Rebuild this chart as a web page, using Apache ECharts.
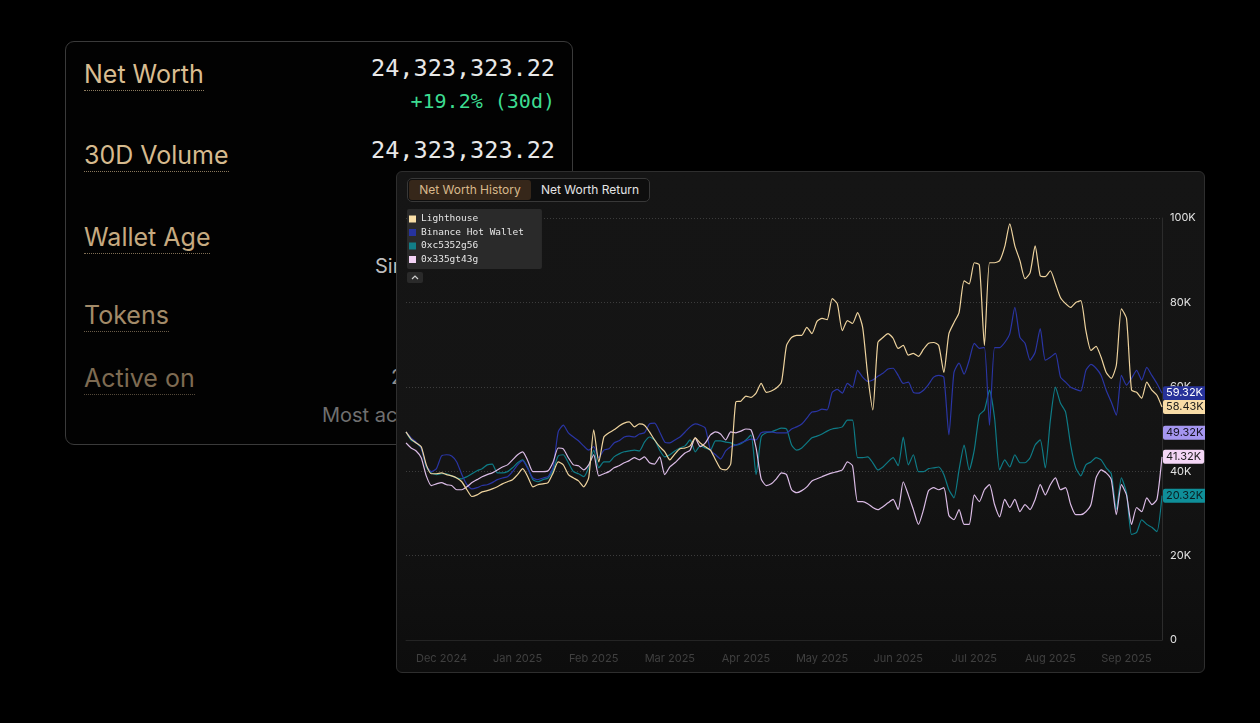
<!DOCTYPE html>
<html>
<head>
<meta charset="utf-8">
<script src="https://cdn.jsdelivr.net/npm/echarts@6/dist/echarts.min.js"></script>
<style>
html,body{margin:0;padding:0;background:#000;width:1260px;height:723px;overflow:hidden;font-family:Inter,'Noto Sans',sans-serif;}
#card{position:absolute;left:65px;top:41px;width:506px;height:402px;border:1.5px solid #3a3a3a;border-radius:9px;background:#020202;}
.lbl{position:absolute;left:84px;font-size:25px;white-space:nowrap;}
.lbl span{display:inline-block;line-height:25px;padding-bottom:3px;border-bottom:1.5px dotted;}
.val{position:absolute;left:250px;width:305px;text-align:right;font-family:'DejaVu Sans Mono',monospace;white-space:nowrap;color:#e8e8e8;}
.sub{position:absolute;font-size:20px;line-height:20px;white-space:nowrap;}
#panel{position:absolute;left:396px;top:171px;width:807px;height:500px;border:1px solid #2e2e2e;border-radius:6px;
  background:linear-gradient(to bottom,#151515 0%,#141414 60%,#0d0d0d 100%);}
#chart{position:absolute;left:396px;top:171px;width:809px;height:502px;}
#tabs{position:absolute;left:407px;top:178px;width:241px;height:22px;border:1px solid #383838;border-radius:5px;background:#0e0e0e;font-size:12px;}
#tabs .t1{position:absolute;left:1px;top:1px;width:122px;height:20px;line-height:20px;text-align:center;background:#36271a;border-radius:3px;color:#d8b98c;}
#tabs .t2{position:absolute;left:124px;top:1px;width:116px;height:20px;line-height:20px;text-align:center;color:#e4e4e4;}
</style>
</head>
<body>
<div id="card">
</div>
<div class="lbl" style="top:59px;color:#d9bd91"><span style="border-color:#8d7c60">Net Worth</span></div>
<div class="val" style="top:57px;font-size:23.5px;line-height:23.5px">24,323,323.22</div>
<div class="val" style="top:91px;font-size:20px;line-height:20px;color:#3ddc91">+19.2% (30d)</div>
<div class="lbl" style="top:140px;color:#d6ba8e"><span style="border-color:#8a785c">30D Volume</span></div>
<div class="val" style="top:139px;font-size:23.5px;line-height:23.5px">24,323,323.22</div>
<div class="lbl" style="top:222px;color:#c6aa80"><span style="border-color:#7f6e55">Wallet Age</span></div>
<div class="sub" style="left:375px;top:256px;color:#bdbdbd">Since Mar 2021</div>
<div class="lbl" style="top:300px;color:#a38b69"><span style="border-color:#6a5c48">Tokens</span></div>
<div class="lbl" style="top:363px;color:#7e6b52"><span style="border-color:#54493a">Active on</span></div>
<div class="sub" style="left:391px;top:367px;color:#8f8f8f">24 chains</div>
<div class="sub" style="left:322px;top:405px;color:#6f6f6f">Most active: Ethereum</div>

<div id="panel"></div>
<div id="chart"></div>
<div id="tabs"><div class="t1">Net Worth History</div><div class="t2">Net Worth Return</div></div>

<script>
// ---- data ----
const months = ['Dec 2024','Jan 2025','Feb 2025','Mar 2025','Apr 2025','May 2025','Jun 2025','Jul 2025','Aug 2025','Sep 2025'];
const pointsPerMonth = 15;
const yTickLabels = ['0','20K','40K','60K','80K','100K'];
const seriesNames = ['Lighthouse','Binance Hot Wallet','0xc5352g56','0x335gt43g'];

// values in thousands (K)
const lighthouse = [49.3,47.6,46.7,45.8,41.5,39.4,39.4,39.6,39.2,38.9, 38.4,37.5,35.6,34.0,34.4,35.1,35.4,35.8,36.3,37.0,
  37.5,38.0,39.2,40.6,38.7,36.3,36.8,37.0,37.3,39.6, 42.2,41.5,39.2,38.4,37.7,36.3,38.4,49.8,42.2,48.1,
  49.1,49.8,50.7,51.4,51.7,50.5,51.2,50.9,49.3,47.4, 45.8,44.6,42.7,44.1,45.3,45.5,46.0,47.9,46.7,45.8,
  45.0,42.7,40.6,40.3,41.7,56.4,56.6,57.8,57.5,58.5, 60.8,58.7,59.0,59.7,61.1,69.8,71.7,72.2,72.2,74.1,
  72.6,75.5,76.2,75.9,80.9,79.7,73.3,75.7,75.0,77.6, 74.1,62.7,54.5,70.5,71.7,72.6,71.5,69.1,69.8,67.5,
  67.9,67.2,68.9,70.3,70.5,69.8,63.4,72.6,75.2,77.6, 85.1,84.4,89.4,88.9,69.8,89.4,89.4,89.9,93.2,98.6,
  93.4,89.9,85.6,87.0,93.4,86.3,86.1,87.5,84.4,81.1, 79.7,78.8,80.0,80.4,73.3,68.6,69.6,67.0,63.4,62.0,
  65.1,78.5,76.2,59.2,58.7,57.3,61.1,59.2,58.0,55.2];
const binanceHotWallet = [49.3,47.9,46.9,45.5,41.3,39.9,40.6,43.6,43.9,43.6, 42.2,39.2,36.8,35.8,36.1,36.6,36.8,37.3,38.0,38.4,
  38.7,39.9,41.5,42.5,40.6,38.4,38.0,38.4,38.7,41.0, 49.3,50.9,49.1,48.1,47.2,46.0,45.0,45.8,43.2,45.0,
  45.3,46.7,47.2,48.1,48.3,48.1,48.8,49.1,51.2,51.4, 49.3,46.9,46.7,47.4,48.1,49.3,50.5,51.2,50.9,50.2,
  45.0,43.9,42.9,44.8,45.8,46.2,46.7,47.2,47.6,47.4, 49.1,49.3,49.3,49.1,49.1,49.1,50.0,50.5,51.2,52.6,
  54.0,54.2,54.7,54.5,58.7,59.4,58.5,60.8,59.9,63.9, 62.3,61.3,61.6,62.5,63.2,64.2,64.4,62.7,60.8,61.1,
  58.7,58.5,59.2,60.6,62.3,62.7,62.3,48.6,63.4,65.6, 63.0,66.3,70.3,69.1,69.3,50.9,69.3,69.3,70.5,72.6,
  78.8,71.7,70.3,66.3,68.2,73.8,66.3,67.0,67.9,62.3, 61.1,59.9,59.4,59.0,63.9,65.3,64.4,62.7,59.2,56.4,
  53.3,62.7,60.4,62.0,63.9,61.6,64.6,62.7,60.8,58.5];
const wallet0xc5 = [49.3,47.4,46.7,45.5,41.0,39.6,39.2,39.4,39.4,38.9, 38.4,38.2,38.7,39.4,40.1,40.6,41.5,41.7,39.6,39.6,
  39.9,40.8,42.0,42.7,40.8,38.0,37.5,38.0,38.4,40.3, 43.6,43.9,42.0,39.9,39.4,38.7,40.8,45.0,40.8,42.2,
  42.2,43.4,44.1,44.6,44.8,45.0,44.8,46.9,48.1,47.4, 45.0,43.4,43.9,44.8,45.5,46.0,47.4,44.6,46.0,45.5,
  45.0,47.2,47.2,46.9,46.7,46.2,46.5,47.4,48.6,39.2, 48.1,49.1,49.3,49.8,50.2,50.0,46.2,45.0,45.5,46.7,
  47.9,48.3,48.8,49.5,50.0,50.2,50.5,52.1,52.1,43.2, 43.2,43.4,42.0,40.3,41.0,42.2,43.2,41.3,48.1,41.5,
  43.9,39.9,39.9,40.6,40.8,41.0,39.2,35.6,33.7,40.3, 46.2,40.3,45.0,53.3,54.5,59.2,52.6,40.3,42.7,41.0,
  43.9,42.0,42.0,43.2,46.2,47.4,40.8,52.1,59.9,56.1, 54.0,46.2,40.8,38.9,41.5,42.2,43.2,42.7,40.8,39.4,
  30.9,38.4,34.9,25.0,25.5,28.5,27.4,26.7,25.7,34.2];
const wallet0x33 = [46.7,45.5,44.8,43.2,38.9,36.6,37.0,37.3,36.8,36.6, 35.6,35.6,36.3,37.3,38.0,38.7,39.2,39.6,40.3,41.0,
  41.5,42.7,43.9,44.6,42.5,39.9,39.9,39.9,40.1,42.2, 45.5,45.3,43.2,41.5,41.3,40.3,41.5,43.9,38.9,39.4,
  39.9,40.8,41.3,42.0,42.5,43.2,42.7,43.4,42.0,41.7, 43.4,39.2,41.0,42.0,43.2,44.3,45.0,47.9,45.8,46.7,
  48.6,49.3,48.8,47.4,49.3,49.1,49.5,50.0,49.8,45.5, 38.2,36.6,37.0,38.2,39.6,39.2,35.6,34.9,35.4,36.3,
  37.7,38.2,38.7,39.2,39.6,39.9,40.3,42.2,41.3,32.8, 32.8,32.3,31.4,30.9,31.6,32.5,33.3,30.9,37.5,34.4,
  30.9,27.4,30.9,35.4,36.1,35.6,36.1,29.5,28.5,30.9, 27.4,27.4,34.4,32.8,35.6,36.8,32.1,29.2,33.3,31.4,
  33.3,30.4,32.1,30.9,33.3,36.8,34.4,36.8,38.4,35.6, 36.1,32.1,29.7,29.7,30.4,32.1,38.4,40.3,39.6,38.0,
  29.7,36.8,34.4,27.4,31.4,30.4,33.7,32.1,33.3,43.4];
const endTags = ['58.43K','59.32K','20.32K','41.32K'];
const extraTag = '49.32K';
const extraTagValue = 49.1;

// ---- build ----
const categories = [];
months.forEach(m => { for (let k = 1; k <= pointsPerMonth; k++) categories.push(m + '|' + k); });
const lineColors = ['#eed39e','#2a35a4','#0e7b86','#dbbce6'];
const legendColors = ['#f9dfa8','#2633a0','#127e88','#f3d3f6'];
const tagStyles = [
  {bg:'#f8dca6', fg:'#1c1c1c'}, {bg:'#27329a', fg:'#ffffff'},
  {bg:'#0f8f99', fg:'#0b1f22'}, {bg:'#f4d6f6', fg:'#1c1c1c'}
];
const dataSets = [lighthouse, binanceHotWallet, wallet0xc5, wallet0x33];
const zs = [6, 4, 3, 5];

const series = seriesNames.map((name, i) => ({
  type: 'line', name, data: dataSets[i], z: zs[i],
  showSymbol: false, symbol: 'none', smooth: 0.2, silent: true,
  lineStyle: {color: lineColors[i], width: 1.2},
  itemStyle: {color: legendColors[i]},
  endLabel: {show: true, formatter: endTags[i], backgroundColor: tagStyles[i].bg, color: tagStyles[i].fg,
    padding: [2, 3, 1, 3], borderRadius: 2, fontSize: 11, fontFamily: 'Inter', distance: 1},
  emphasis: {disabled: true}
}));
const extraData = categories.map((c, i) => i === categories.length - 1 ? extraTagValue : null);
series.push({
  type: 'line', name: 'extra', data: extraData, z: 7, showSymbol: false, symbol: 'none', silent: true,
  lineStyle: {opacity: 0, width: 0}, itemStyle: {color: '#a596f0'},
  endLabel: {show: true, formatter: extraTag, backgroundColor: '#a596f0', color: '#15121f',
    padding: [2, 3, 1, 3], borderRadius: 2, fontSize: 11, fontFamily: 'Inter', distance: 1},
  emphasis: {disabled: true}
});

const chart = echarts.init(document.getElementById('chart'), null, {renderer: 'canvas'});
chart.setOption({
  animation: false,
  backgroundColor: 'transparent',
  grid: {left: 10, right: 43, top: 47, bottom: 33},
  legend: {
    data: seriesNames, orient: 'vertical', left: 11, top: 38, icon: 'rect',
    itemWidth: 7, itemHeight: 7, itemGap: 2.5, padding: [4.5, 18, 4, 2],
    backgroundColor: '#2a2a2a', borderRadius: 2, selectedMode: false,
    textStyle: {color: '#e6e6e6', fontFamily: 'DejaVu Sans Mono', fontSize: 9.5, lineHeight: 11}
  },
  xAxis: {
    type: 'category', data: categories, boundaryGap: false,
    axisLine: {show: true, lineStyle: {color: '#242424'}},
    axisTick: {show: false}, splitLine: {show: false},
    axisLabel: {
      interval: (idx) => idx % pointsPerMonth === 7,
      formatter: (v) => v.split('|')[0],
      color: '#404040', fontSize: 11, fontFamily: 'Inter', margin: 13
    }
  },
  yAxis: {
    type: 'value', position: 'right', min: 0, max: 100, interval: 20,
    axisLine: {show: true, lineStyle: {color: '#2c2c2c'}},
    axisTick: {show: false},
    splitLine: {show: true, lineStyle: {color: '#3c3c3c', type: [1, 2], width: 1}},
    axisLabel: {
      formatter: (v) => yTickLabels[Math.round(v / 20)],
      color: (v) => v === 0 ? '#505050' : (v === 20 ? '#a8a8a8' : (v === 40 ? '#cfcfcf' : '#e2e2e2')),
      fontSize: 11, fontFamily: 'Inter', margin: 8
    }
  },
  graphic: [{
    type: 'group', left: 11, top: 101,
    children: [
      {type: 'rect', shape: {x: 0, y: 0, width: 16, height: 11, r: 2}, style: {fill: '#2a2a2a'}},
      {type: 'polyline', shape: {points: [[5, 7], [8, 4], [11, 7]]}, style: {stroke: '#cfcfcf', lineWidth: 1.2, fill: null}}
    ]
  }],
  series
});
</script>
</body>
</html>
